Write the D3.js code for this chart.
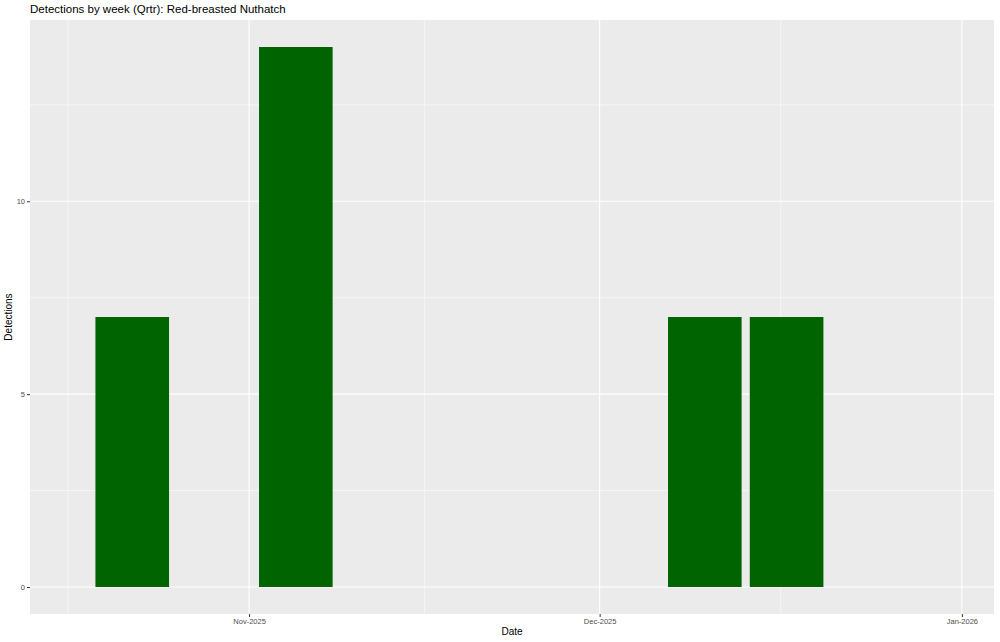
<!DOCTYPE html>
<html>
<head>
<meta charset="utf-8">
<script src="https://cdn.jsdelivr.net/npm/d3@7"></script>
<style>
  body { margin: 0; background: #fff; }
  svg { display: block; font-family: "Liberation Sans", Arial, Helvetica, sans-serif; }
</style>
</head>
<body>
<svg id="chart" width="1000" height="642"></svg>
<script>
// Data
const weekCenters = ["2025-10-22", "2025-11-05", "2025-12-10", "2025-12-17"];
const detections = [7, 14, 7, 7];
const xTickDates = ["2025-11-01", "2025-12-01", "2026-01-01"];
const xTickLabels = ["Nov-2025", "Dec-2025", "Jan-2026"];
const xMinorDates = ["2025-10-16T12:00", "2025-11-16T00:00", "2025-12-16T12:00"];
const yTicks = [0, 5, 10];
const yMinor = [2.5, 7.5, 12.5];
const titleText = "Detections by week (Qrtr): Red-breasted Nuthatch";

const parse = s => new Date(s + (s.length === 10 ? "T00:00:00Z" : ":00Z"));
const DAY = 86400000;

const svg = d3.select("#chart");
const m = { left: 30, right: 994, top: 20, bottom: 614 };

const xDomain = [new Date(parse("2025-10-17").getTime() - 3.75 * DAY),
                 new Date(parse("2025-12-31").getTime() + 3.75 * DAY)];
const x = d3.scaleUtc().domain(xDomain).range([m.left, m.right]);
const y = d3.scaleLinear().domain([-0.7, 14.7]).range([m.bottom, m.top]);

// panel
svg.append("rect").attr("x", m.left).attr("y", m.top)
  .attr("width", m.right - m.left).attr("height", m.bottom - m.top)
  .attr("fill", "#EBEBEB");

const g = svg.append("g");
// minor grid
g.selectAll(".ymin").data(yMinor).enter().append("line")
  .attr("x1", m.left).attr("x2", m.right)
  .attr("y1", d => y(d)).attr("y2", d => y(d))
  .attr("stroke", "#fff").attr("stroke-width", 0.55);
g.selectAll(".xmin").data(xMinorDates).enter().append("line")
  .attr("y1", m.top).attr("y2", m.bottom)
  .attr("x1", d => x(parse(d))).attr("x2", d => x(parse(d)))
  .attr("stroke", "#fff").attr("stroke-width", 0.55);
// major grid
g.selectAll(".ymaj").data(yTicks).enter().append("line")
  .attr("x1", m.left).attr("x2", m.right)
  .attr("y1", d => y(d)).attr("y2", d => y(d))
  .attr("stroke", "#fff").attr("stroke-width", 1.1);
g.selectAll(".xmaj").data(xTickDates).enter().append("line")
  .attr("y1", m.top).attr("y2", m.bottom)
  .attr("x1", d => x(parse(d))).attr("x2", d => x(parse(d)))
  .attr("stroke", "#fff").attr("stroke-width", 1.1);

// bars
const halfW = 0.9 * 7 / 2 * DAY;
g.selectAll(".bar").data(weekCenters.map((d, i) => ({ d: parse(d), v: detections[i] })))
  .enter().append("rect")
  .attr("x", d => x(new Date(d.d.getTime() - halfW)))
  .attr("width", d => x(new Date(d.d.getTime() + halfW)) - x(new Date(d.d.getTime() - halfW)))
  .attr("y", d => y(d.v))
  .attr("height", d => y(0) - y(d.v))
  .attr("fill", "#006400");

// axes
const xAxis = d3.axisBottom(x)
  .tickValues(xTickDates.map(parse))
  .tickFormat((d, i) => xTickLabels[i])
  .tickSize(3).tickPadding(2);
const xa = svg.append("g").attr("transform", `translate(0,${m.bottom})`).call(xAxis);
xa.select(".domain").remove();
xa.selectAll("line").attr("stroke", "#333333").attr("stroke-width", 1);
xa.selectAll("text").attr("fill", "#4D4D4D").style("font-size", "7.5px");

const yAxis = d3.axisLeft(y).tickValues(yTicks).tickSize(3).tickPadding(2);
const ya = svg.append("g").attr("transform", `translate(${m.left},0)`).call(yAxis);
ya.select(".domain").remove();
ya.selectAll("line").attr("stroke", "#333333").attr("stroke-width", 1);
ya.selectAll("text").attr("fill", "#4D4D4D").style("font-size", "7.5px");

// titles
svg.append("text").attr("x", (m.left + m.right) / 2).attr("y", 635)
  .attr("text-anchor", "middle").style("font-size", "10px").attr("fill", "#000")
  .text("Date");
svg.append("text")
  .attr("transform", `translate(12,${(m.top + m.bottom) / 2}) rotate(-90)`)
  .attr("text-anchor", "middle").style("font-size", "10px").attr("fill", "#000")
  .text("Detections");
svg.append("text").attr("x", m.left).attr("y", 13)
  .style("font-size", "11.5px").attr("fill", "#000")
  .text(titleText);
</script>
</body>
</html>
